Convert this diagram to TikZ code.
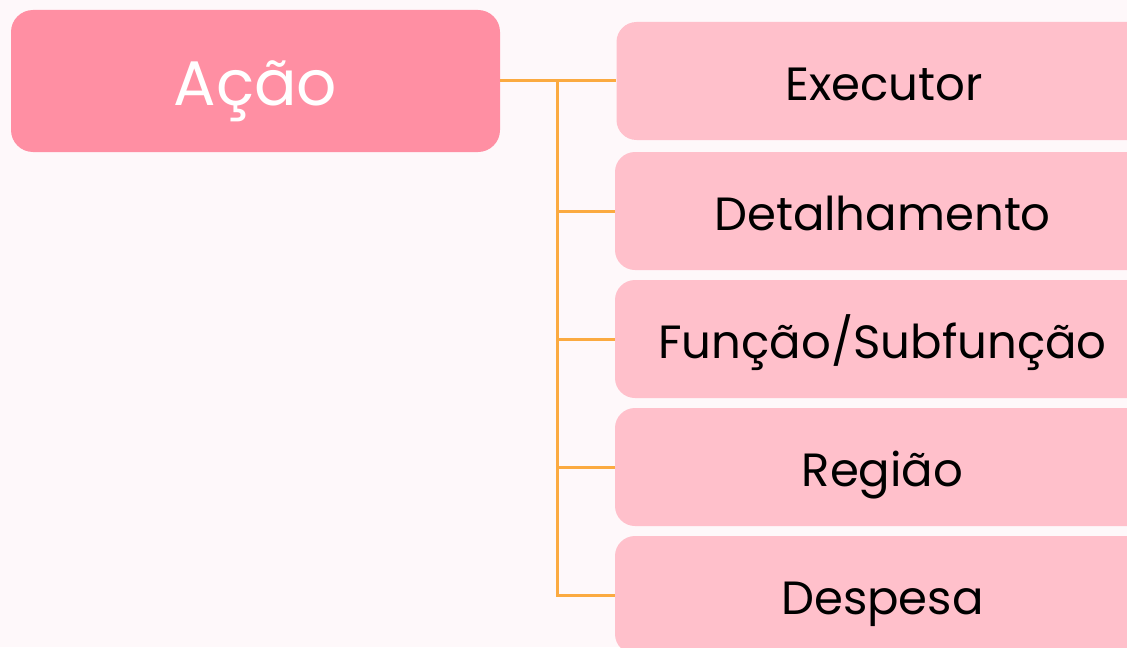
\documentclass[tikz,border=0pt]{standalone}
\usepackage{fontspec}
\setmainfont{Poppins}
\usepackage{xcolor}
\definecolor{fundo}{HTML}{FEF8FA}
\definecolor{rosaforte}{HTML}{FF8FA3}
\definecolor{rosaclaro}{HTML}{FFC0CB}
\definecolor{laranja}{HTML}{FBAA40}

\begin{document}
\begin{tikzpicture}[x=0.5pt,y=-0.5pt]
\tikzstyle{raiz}=[fill=rosaforte, text=white, rounded corners=11pt, minimum width=244.5pt, minimum height=71pt, font=\fontsize{31.5}{36}\selectfont, inner sep=0pt, text height=24pt, text depth=0pt]
\tikzstyle{item}=[fill=rosaclaro, text=black, rounded corners=10pt, minimum width=267.5pt, minimum height=59pt, font=\fontsize{23.3}{28}\selectfont, inner sep=0pt, text height=19pt, text depth=0pt]
\tikzstyle{ramo}=[draw=laranja, line width=1.5pt]
\fill[fundo] (0,0) rectangle (1127,647);
\useasboundingbox (0,0) rectangle (1127,647);
\clip (0,0) rectangle (1127,647);
% raiz
\node[raiz] (acao) at (255.5,81) {Ação};
% itens
\node[item] (executor) at (884,81) {Executor};
\node[item] (detalhamento) at (882.5,211) {Detalhamento};
\node[item] (funcao) at (882.5,339) {Função/Subfunção};
\node[item] (regiao) at (882.5,467) {Região};
\node[item] (despesa) at (882.5,595) {Despesa};
% ligacoes
\coordinate (tronco) at (557,81);
\draw[ramo] (acao.east) -- (executor.west);
\draw[ramo] (tronco) |- (detalhamento.west);
\draw[ramo] (tronco) |- (funcao.west);
\draw[ramo] (tronco) |- (regiao.west);
\draw[ramo] (tronco) |- (despesa.west);
\end{tikzpicture}
\end{document}
